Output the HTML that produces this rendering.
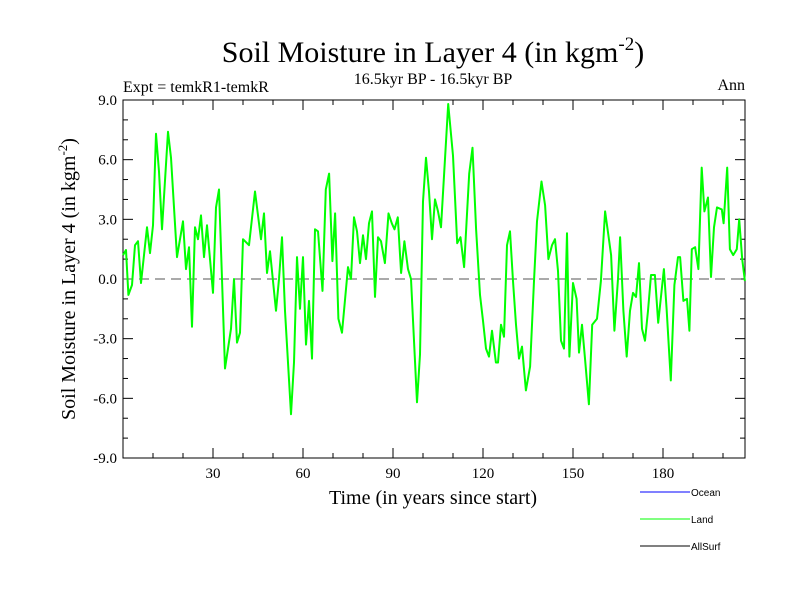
<!DOCTYPE html>
<html><head><meta charset="utf-8"><style>
body{margin:0;background:#fff;}
svg{display:block;font-family:"Liberation Serif",serif;}
</style></head><body>
<svg id="chart" width="800" height="600" xmlns="http://www.w3.org/2000/svg">
<rect width="800" height="600" fill="#fff"/>
<text x="433" y="62" font-size="30" text-anchor="middle">Soil Moisture in Layer 4 (in kgm<tspan dy="-12" font-size="19">-2</tspan><tspan dy="12">)</tspan></text>
<text x="123" y="92" font-size="16">Expt = temkR1-temkR</text>
<text x="433" y="84" font-size="16" text-anchor="middle">16.5kyr BP - 16.5kyr BP</text>
<text x="745" y="90" font-size="16" text-anchor="end">Ann</text>
<text x="433" y="504" font-size="20" text-anchor="middle">Time (in years since start)</text>
<text transform="translate(75,279) rotate(-90)" font-size="20" text-anchor="middle">Soil Moisture in Layer 4 (in kgm<tspan dy="-8" font-size="13">-2</tspan><tspan dy="8">)</tspan></text>
<g id="axes"></g>
<g id="series"></g>
<g font-family="Liberation Sans, sans-serif" font-size="10">
<line x1="640" y1="492" x2="690" y2="492" stroke="#0000ff"/>
<text x="691" y="496">Ocean</text>
<line x1="640" y1="519" x2="690" y2="519" stroke="#00ff00"/>
<text x="691" y="523">Land</text>
<line x1="640" y1="546" x2="690" y2="546" stroke="#000"/>
<text x="691" y="550">AllSurf</text>
</g>
</svg>
<script>
const years=[0,1,1.8,3,4,5,6,8,9,10,11,12,13,15,16,18,20,21,22,23,24,25,26,27,28,30,31,32,34,36,37,38,39,40,42,44,46,47,48,49,51,52,53,54,56,57,58,59,60,61,62,63,64,65,66.5,67.6,68.7,69.8,70.7,71.8,73,75,76,77,78,79,80,81,82,83,84,85,86,87.3,88.5,89.6,90.5,91.6,92.7,93.8,95,96,98,99,100,101,102,103,104,105,106,108.4,110,111.4,112.5,113.7,115.4,116.5,117.7,119,120,121,122,123,124.3,125,126,127,128,129,130,131,132,133,134.3,135.7,137,138,139.5,140.7,141.8,143,144,145,146,147,148,148.8,150,151.2,152,153,154,155.3,156.4,158,159.3,160.7,161.8,162.7,163.8,165,165.7,166.8,167.9,169,170,171,172,173,174,175,176,177.3,178.4,180.3,181.2,182.6,183.8,185,185.7,186.8,188,188.8,189.6,190.7,191.8,192.9,193.8,195,196,197,198,199.6,200.2,201.4,202.3,203.4,204.6,205.4,206.4,207.3];
const values=[1.2,1.46,-0.8,-0.3,1.7,1.9,-0.2,2.6,1.3,2.7,7.3,5.4,2.5,7.4,6.1,1.1,2.9,0.5,1.6,-2.4,2.6,2.0,3.2,1.1,2.7,-0.7,3.6,4.5,-4.5,-2.5,0,-3.2,-2.7,2.0,1.7,4.4,2.0,3.3,0.3,1.4,-1.6,0.0,2.1,-1.6,-6.8,-4.2,1.1,-1.5,1.1,-3.3,-1.1,-4.0,2.5,2.4,-0.6,4.5,5.3,0.9,3.3,-2.0,-2.7,0.6,0,3.1,2.4,0.8,2.2,1.0,2.8,3.4,-0.9,2.1,1.9,0.8,3.3,2.8,2.5,3.1,0.3,1.9,0.5,0,-6.2,-3.8,3.9,6.1,4.4,2.0,4.0,3.4,2.6,8.8,6.2,1.8,2.1,0.6,5.3,6.6,2.5,-0.8,-2.1,-3.5,-3.9,-2.6,-4.2,-4.2,-2.3,-2.9,1.7,2.4,-0.1,-2.3,-4.0,-3.4,-5.6,-4.4,-0.1,2.9,4.9,3.7,1.0,1.7,2.0,0.4,-3.1,-3.5,2.3,-3.9,-0.2,-1.0,-3.7,-2.3,-4.0,-6.3,-2.3,-2.0,-0.1,3.4,2.2,1.2,-2.6,0,2.1,-1.6,-3.9,-1.6,-0.7,-0.9,0.8,-2.5,-3.1,-1.6,0.2,0.2,-2.2,0.5,-1.5,-5.1,-0.3,1.1,1.1,-1.1,-1.0,-2.6,1.5,1.6,0.5,5.6,3.4,4.1,0.1,2.6,3.6,3.5,2.8,5.6,1.5,1.2,1.5,3.0,1.0,-0.1];
const xTickLabels=[30,60,90,120,150,180];
const yTickLabels=[-9,-6,-3,0,3,6,9];
const X0=123,X1=745,Y0=100,Y1=458;
const xScale=v=>X0+v*3;
const yScale=v=>Y1-(v+9)*(Y1-Y0)/18;
const NS="http://www.w3.org/2000/svg";
const ax=document.getElementById('axes'), se=document.getElementById('series');
function mk(tag,attrs,parent){const e=document.createElementNS(NS,tag);for(const k in attrs)e.setAttribute(k,attrs[k]);parent.appendChild(e);return e;}
const frame=mk('rect',{x:X0,y:Y0,width:X1-X0,height:Y1-Y0,fill:'none',stroke:'#000','stroke-width':1},ax);


for(let v=10;v<207;v+=10){const x=xScale(v);const L=(v%30===0)?10:5;
 const t=mk('line',{x1:x,y1:Y1,x2:x,y2:Y1-L,stroke:'#000'},ax);
 
 
 const t2=mk('line',{x1:x,y1:Y0,x2:x,y2:Y0+L,stroke:'#000'},ax);
 
 }
xTickLabels.forEach(v=>{const t=mk('text',{x:xScale(v),y:Y1+20,'font-size':15,'text-anchor':'middle'},ax);t.textContent=v;
 
 });
for(let v=-8;v<9;v++){const y=yScale(v);const L=(v%3===0)?10:5;
 const t=mk('line',{x1:X0,y1:y,x2:X0+L,y2:y,stroke:'#000'},ax);
 
 
 const t2=mk('line',{x1:X1,y1:y,x2:X1-L,y2:y,stroke:'#000'},ax);
 
 }
yTickLabels.forEach(v=>{const t=mk('text',{x:X0-6,y:yScale(v)+5,'font-size':15,'text-anchor':'end'},ax);t.textContent=v.toFixed(1);
 
 });
const zl=mk('line',{x1:X0,y1:yScale(0),x2:X1,y2:yScale(0),stroke:'#555','stroke-dasharray':'10,6'},ax);


const pts=years.map((y,i)=>xScale(y).toFixed(1)+','+yScale(values[i]).toFixed(1)).join(' ');
const pl=mk('polyline',{points:pts,fill:'none',stroke:'#00ff00','stroke-width':2,'stroke-linejoin':'round'},se);


</script>
</body></html>
